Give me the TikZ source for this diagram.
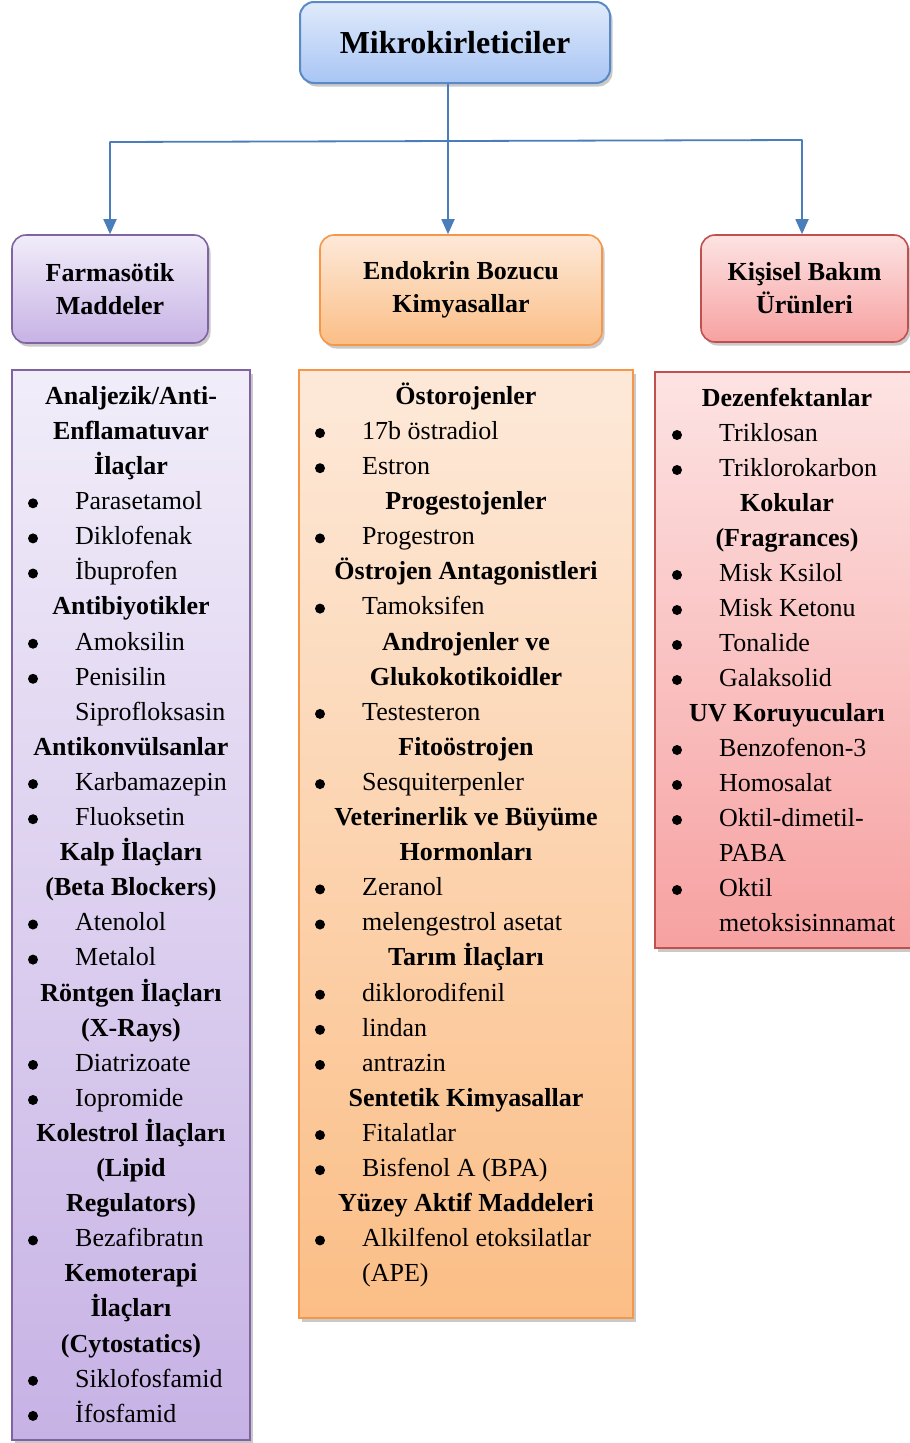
\documentclass[tikz,border=0pt]{standalone}
\usepackage{fontspec}
\setmainfont{Liberation Serif}
\usetikzlibrary{shadows,arrows.meta}
\definecolor{connc}{HTML}{4A7EBB}
\definecolor{blueB}{HTML}{5A8AC6}
\definecolor{blueT}{HTML}{E0EAFB}
\definecolor{blueBo}{HTML}{A8C5F4}
\definecolor{purB}{HTML}{8064A2}
\definecolor{purT}{HTML}{F1EDF9}
\definecolor{purBo}{HTML}{C7B2E5}
\definecolor{orB}{HTML}{F79646}
\definecolor{orT}{HTML}{FDE9D9}
\definecolor{orBo}{HTML}{FBBE86}
\definecolor{redB}{HTML}{C0504D}
\definecolor{redT}{HTML}{FDE3E3}
\definecolor{redBo}{HTML}{F7A1A1}
\tikzset{
  txt/.style={inner sep=0pt, font=\fontsize{26}{30}\selectfont},
  hd/.style={inner sep=0pt, font=\fontsize{26}{30}\selectfont\bfseries, anchor=mid},
  it/.style={txt, anchor=mid west},
  bu/.style={circle, fill=black, inner sep=0pt, minimum size=10pt},
  conn/.style={draw=connc, line width=1.8pt},
  arr/.style={conn, -{Triangle[width=13pt,length=15pt]}},
  shad/.style={drop shadow={shadow xshift=2.5pt, shadow yshift=-3.5pt, opacity=0.3, fill=black!70}},
  rbox/.style={shad, line width=1.6pt, rounded corners=14pt, align=center, inner sep=0pt,
     font=\fontsize{26}{33}\selectfont\bfseries},
  lbox/.style={shad, line width=1.6pt, inner sep=0pt},
}
\newcommand\bitem[4]{\node[bu] (#1b) at (#2,#3-4) {}; \node[it] (#1) at (#2+42,#3) {#4};}
\newcommand\pitem[4]{\node[it] (#1) at (#2+42,#3) {#4};}
\newcommand\hitem[3]{\node[hd] (#1) at (#2) {#3};}
\begin{document}
\begin{tikzpicture}[x=1pt,y=-1pt]
\useasboundingbox (0,0) rectangle (910,1443);
% title
\node[rbox, draw=blueB, line width=2pt, top color=blueT, bottom color=blueBo, minimum width=310pt, minimum height=81pt,
  font=\fontsize{32}{36}\selectfont\bfseries] (title) at (455,42.5) {\raisebox{-2pt}{Mikrokirleticiler}};
% headers
\node[rbox, draw=purB, top color=purT, bottom color=purBo, minimum width=196pt, minimum height=108pt]
  (farm) at (110,289) {Farmasötik\\Maddeler};
\node[rbox, draw=orB, top color=orT, bottom color=orBo, minimum width=282pt, minimum height=110pt]
  (endo) at (461,290) {Endokrin Bozucu\\Kimyasallar};
\node[rbox, draw=redB, top color=redT, bottom color=redBo, minimum width=207pt, minimum height=107pt]
  (kis) at (804.5,288.5) {Kişisel Bakım\\Ürünleri};
% connectors
\coordinate (j) at (448,141);
\coordinate (jl) at (110,142);
\coordinate (jr) at (802,140);
\draw[conn] (title.south -| j) -- (j);
\draw[conn, line cap=round] (jl) -- (jr);
\draw[arr] (jl) -- (farm.north);
\draw[arr] (j) -- (endo.north -| j);
\draw[arr] (jr) -- (kis.north -| jr);
% list boxes
\node[lbox, draw=purB, top color=purT, bottom color=purBo, minimum width=238pt, minimum height=1070pt] (plist) at (131,905) {};
\node[lbox, draw=orB, top color=orT, bottom color=orBo, minimum width=334pt, minimum height=948pt] (olist) at (466,844) {};
\node[lbox, draw=redB, top color=redT, bottom color=redBo, minimum width=320pt, minimum height=576pt] (rlist) at (815,660) {};
\begin{scope}[yshift=-7pt]
% purple column
\hitem{p1}{131,395}{Analjezik/Anti-}
\hitem{p2}{131,430.1}{Enflamatuvar}
\hitem{p3}{131,465.2}{İlaçlar}
\bitem{p4}{33}{500.3}{Parasetamol}
\bitem{p5}{33}{535.4}{Diklofenak}
\bitem{p6}{33}{570.5}{İbuprofen}
\hitem{p7}{131,605.6}{Antibiyotikler}
\bitem{p8}{33}{640.7}{Amoksilin}
\bitem{p9}{33}{675.8}{Penisilin}
\pitem{p10}{33}{710.9}{Siprofloksasin}
\hitem{p11}{131,746}{Antikonvülsanlar}
\bitem{p12}{33}{781.1}{Karbamazepin}
\bitem{p13}{33}{816.2}{Fluoksetin}
\hitem{p14}{131,851.3}{Kalp İlaçları}
\hitem{p15}{131,886.4}{(Beta Blockers)}
\bitem{p16}{33}{921.5}{Atenolol}
\bitem{p17}{33}{956.6}{Metalol}
\hitem{p18}{131,991.7}{Röntgen İlaçları}
\hitem{p19}{131,1026.8}{(X-Rays)}
\bitem{p20}{33}{1061.9}{Diatrizoate}
\bitem{p21}{33}{1097}{Iopromide}
\hitem{p22}{131,1132.1}{Kolestrol İlaçları}
\hitem{p23}{131,1167.2}{(Lipid}
\hitem{p24}{131,1202.3}{Regulators)}
\bitem{p25}{33}{1237.4}{Bezafibratın}
\hitem{p26}{131,1272.5}{Kemoterapi}
\hitem{p27}{131,1307.6}{İlaçları}
\hitem{p28}{131,1342.7}{(Cytostatics)}
\bitem{p29}{33}{1377.8}{Siklofosfamid}
\bitem{p30}{33}{1412.9}{İfosfamid}
% orange column
\hitem{o1}{466,395}{Östorojenler}
\bitem{o2}{320}{430.1}{17b östradiol}
\bitem{o3}{320}{465.2}{Estron}
\hitem{o4}{466,500.3}{Progestojenler}
\bitem{o5}{320}{535.4}{Progestron}
\hitem{o6}{466,570.5}{Östrojen Antagonistleri}
\bitem{o7}{320}{605.6}{Tamoksifen}
\hitem{o8}{466,640.7}{Androjenler ve}
\hitem{o9}{466,675.8}{Glukokotikoidler}
\bitem{o10}{320}{710.9}{Testesteron}
\hitem{o11}{466,746}{Fitoöstrojen}
\bitem{o12}{320}{781.1}{Sesquiterpenler}
\hitem{o13}{466,816.2}{Veterinerlik ve Büyüme}
\hitem{o14}{466,851.3}{Hormonları}
\bitem{o15}{320}{886.4}{Zeranol}
\bitem{o16}{320}{921.5}{melengestrol asetat}
\hitem{o17}{466,956.6}{Tarım İlaçları}
\bitem{o18}{320}{991.7}{diklorodifenil}
\bitem{o19}{320}{1026.8}{lindan}
\bitem{o20}{320}{1061.9}{antrazin}
\hitem{o21}{466,1097}{Sentetik Kimyasallar}
\bitem{o22}{320}{1132.1}{Fitalatlar}
\bitem{o23}{320}{1167.2}{Bisfenol A (BPA)}
\hitem{o24}{466,1202.3}{Yüzey Aktif Maddeleri}
\bitem{o25}{320}{1237.4}{Alkilfenol etoksilatlar}
\pitem{o26}{320}{1272.5}{(APE)}
% red column
\hitem{r1}{787,397}{Dezenfektanlar}
\bitem{r2}{677}{432}{Triklosan}
\bitem{r3}{677}{467}{Triklorokarbon}
\hitem{r4}{787,502}{Kokular}
\hitem{r5}{787,537}{(Fragrances)}
\bitem{r6}{677}{572}{Misk Ksilol}
\bitem{r7}{677}{607}{Misk Ketonu}
\bitem{r8}{677}{642}{Tonalide}
\bitem{r9}{677}{677}{Galaksolid}
\hitem{r10}{787,712}{UV Koruyucuları}
\bitem{r11}{677}{747}{Benzofenon-3}
\bitem{r12}{677}{782}{Homosalat}
\bitem{r13}{677}{817}{Oktil-dimetil-}
\pitem{r14}{677}{852}{PABA}
\bitem{r15}{677}{887}{Oktil}
\pitem{r16}{677}{922}{metoksisinnamat}
\end{scope}
\end{tikzpicture}
\end{document}
